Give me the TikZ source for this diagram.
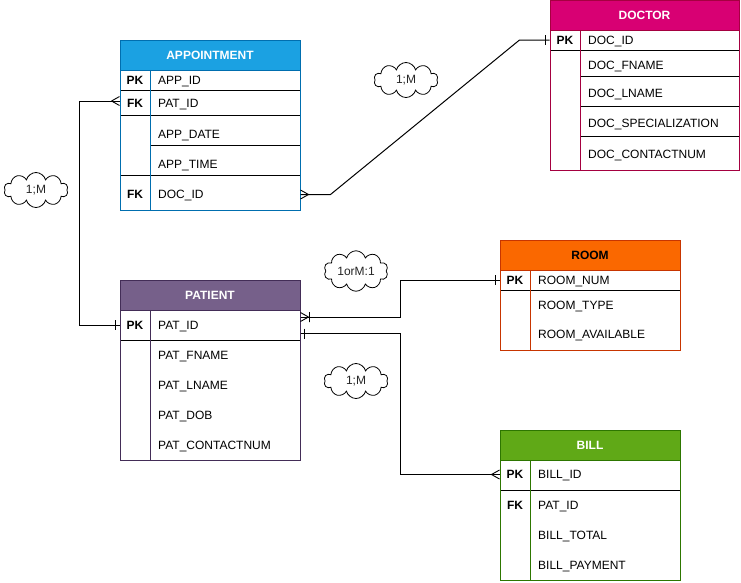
\documentclass[tikz,border=0pt]{standalone}
\usepackage{fontspec}
\setmainfont{Liberation Sans}
\usetikzlibrary{shapes.symbols,calc}
\definecolor{appFill}{HTML}{1BA1E2}\definecolor{appLine}{HTML}{006EAF}
\definecolor{docFill}{HTML}{D80073}\definecolor{docLine}{HTML}{A50040}
\definecolor{patFill}{HTML}{76608A}\definecolor{patLine}{HTML}{432D57}
\definecolor{roomFill}{HTML}{FA6800}\definecolor{roomLine}{HTML}{C73500}
\definecolor{billFill}{HTML}{60A917}\definecolor{billLine}{HTML}{2D7600}
\tikzset{
  hdr/.style={rectangle, inner sep=0pt, line width=1pt, font=\fontsize{12}{14}\selectfont\bfseries, text=white},
  bodybox/.style={rectangle, inner sep=0pt, line width=1pt, fill=white},
  keytxt/.style={inner sep=0pt, text height=8.6pt, text depth=0pt, font=\fontsize{12}{14}\selectfont\bfseries},
  fldtxt/.style={inner sep=0pt, text height=8.6pt, text depth=0pt, anchor=west, font=\fontsize{12}{14}\selectfont},
  sep/.style={line width=1pt, black},
  conn/.style={line width=1pt, black},
  note/.style={cloud, cloud puffs=10, aspect=1.8, draw, fill=white, line width=0.8pt, inner sep=0pt,
     minimum width=64pt, minimum height=35pt, font=\fontsize{12}{14}\selectfont, text=black!85},
  pics/crowfoot/.style={code={\draw[line width=0.9pt] (-8,0) -- (0,-4.5) (-8,0) -- (0,4.5);}},
  pics/onebar/.style={code={\draw[line width=0.9pt] (-4,-5) -- (-4,5);}},
  pics/onemany/.style={code={\draw[line width=0.9pt] (-8,0) -- (0,-4.5) (-8,0) -- (0,4.5) (-9,-5) -- (-9,5);}}
}
\begin{document}
\begin{tikzpicture}[x=1pt,y=-1pt]
\useasboundingbox[fill=white] (0,0) rectangle (741,582);

% ---------------- APPOINTMENT ----------------
\node[bodybox, draw=appLine, minimum width=180pt, minimum height=140pt] (appB) at (210,140) {};
\node[hdr, fill=appFill, draw=appLine, minimum width=180pt, minimum height=30pt] (appH) at (210,55) {APPOINTMENT};
\draw[sep] (120,90) -- (300,90) (120,115) -- (300,115) (150,145) -- (300,145) (120,175) -- (300,175);
\draw[appLine, line width=1pt] (150,70) -- (150,210);
\draw[appLine, line width=1pt] (120,70) rectangle (300,210);
\node[keytxt] (appK1) at (135,80) {PK};
\node[fldtxt] (appF1) at (158,80) {APP\_ID};
\node[keytxt] (appK2) at (135,103.5) {FK};
\node[fldtxt] (appF2) at (158,103.5) {PAT\_ID};
\node[fldtxt] (appF3) at (158,134) {APP\_DATE};
\node[fldtxt] (appF4) at (158,164) {APP\_TIME};
\node[keytxt] (appK5) at (135,194.5) {FK};
\node[fldtxt] (appF5) at (158,194.5) {DOC\_ID};

% ---------------- DOCTOR ----------------
\node[bodybox, draw=docLine, minimum width=189pt, minimum height=140pt] (docB) at (644.5,100) {};
\node[hdr, fill=docFill, draw=docLine, minimum width=189pt, minimum height=29.5pt] (docH) at (644.5,15.25) {DOCTOR};
\draw[sep] (550,50) -- (739,50) (580,76) -- (739,76) (580,106) -- (739,106) (580,136) -- (739,136);
\draw[docLine, line width=1pt] (580,30) -- (580,170);
\draw[docLine, line width=1pt] (550,30) rectangle (739,170);
\node[keytxt] (docK1) at (565,40) {PK};
\node[fldtxt] (docF1) at (588,40) {DOC\_ID};
\node[fldtxt] (docF2) at (588,65) {DOC\_FNAME};
\node[fldtxt] (docF3) at (588,93.5) {DOC\_LNAME};
\node[fldtxt] (docF4) at (588,123.5) {DOC\_SPECIALIZATION};
\node[fldtxt] (docF5) at (588,154.5) {DOC\_CONTACTNUM};

% ---------------- PATIENT ----------------
\node[bodybox, draw=patLine, minimum width=180pt, minimum height=150pt] (patB) at (210,385) {};
\node[hdr, fill=patFill, draw=patLine, minimum width=180pt, minimum height=30pt] (patH) at (210,295) {PATIENT};
\draw[sep] (120,340) -- (300,340);
\draw[patLine, line width=1pt] (150,310) -- (150,460);
\draw[patLine, line width=1pt] (120,310) rectangle (300,460);
\node[keytxt] (patK1) at (135,325) {PK};
\node[fldtxt] (patF1) at (158,325) {PAT\_ID};
\node[fldtxt] (patF2) at (158,355) {PAT\_FNAME};
\node[fldtxt] (patF3) at (158,385) {PAT\_LNAME};
\node[fldtxt] (patF4) at (158,415) {PAT\_DOB};
\node[fldtxt] (patF5) at (158,445) {PAT\_CONTACTNUM};

% ---------------- ROOM ----------------
\node[bodybox, draw=roomLine, minimum width=180pt, minimum height=80pt] (roomB) at (590,310) {};
\node[hdr, fill=roomFill, draw=roomLine, minimum width=180pt, minimum height=30pt, text=black] (roomH) at (590,255) {ROOM};
\draw[sep] (500,290) -- (680,290);
\draw[roomLine, line width=1pt] (530,270) -- (530,350);
\draw[roomLine, line width=1pt] (500,270) rectangle (680,350);
\node[keytxt] (roomK1) at (515,280) {PK};
\node[fldtxt] (roomF1) at (538,280) {ROOM\_NUM};
\node[fldtxt] (roomF2) at (538,305) {ROOM\_TYPE};
\node[fldtxt] (roomF3) at (538,334.5) {ROOM\_AVAILABLE};

% ---------------- BILL ----------------
\node[bodybox, draw=billLine, minimum width=180pt, minimum height=120pt] (billB) at (590,520) {};
\node[hdr, fill=billFill, draw=billLine, minimum width=180pt, minimum height=30pt] (billH) at (590,445) {BILL};
\draw[sep] (500,490) -- (680,490);
\draw[billLine, line width=1pt] (530,460) -- (530,580);
\draw[billLine, line width=1pt] (500,460) rectangle (680,580);
\node[keytxt] (billK1) at (515,474.5) {PK};
\node[fldtxt] (billF1) at (538,474.5) {BILL\_ID};
\node[keytxt] (billK2) at (515,505) {FK};
\node[fldtxt] (billF2) at (538,505) {PAT\_ID};
\node[fldtxt] (billF3) at (538,535) {BILL\_TOTAL};
\node[fldtxt] (billF4) at (538,565) {BILL\_PAYMENT};

% ---------------- connectors ----------------
\coordinate (cApp1) at ($(appB.west |- appF2)+(0,-2.5)$);
\coordinate (cPat1) at (patB.west |- patF1);
\draw[conn] (cApp1) -- ++(-40,0) |- (cPat1);
\pic at (cApp1) {crowfoot};
\pic at (cPat1) {onebar};

\coordinate (cApp2) at (appB.east |- appF5);
\coordinate (cDoc) at (docB.west |- docF1);
\draw[conn] (cApp2) -- ++(30,0) -- ($(cDoc)+(-30,0)$) -- (cDoc);
\pic[xscale=-1] at (cApp2) {crowfoot};
\pic at (cDoc) {onebar};

\coordinate (cPat2) at ($(patB.east |- patF1)+(0,-8)$);
\coordinate (cRoom) at (roomB.west |- roomF1);
\draw[conn] (cPat2) -- ++(100,0) |- (cRoom);
\pic[xscale=-1] at (cPat2) {onemany};
\pic at (cRoom) {onebar};

\coordinate (cPat3) at ($(patB.east |- patF1)+(0,8.5)$);
\coordinate (cBill) at (billB.west |- billF1);
\draw[conn] (cPat3) -- ++(100,0) |- (cBill);
\pic[xscale=-1] at (cPat3) {onebar};
\pic at (cBill) {crowfoot};

% ---------------- notes ----------------
\node[note] (n1) at (406,80) {1;M};
\node[note] (n2) at (36,190) {1;M};
\node[note] (n3) at (356,271) {1orM:1};
\node[note] (n4) at (356,381) {1;M};
\end{tikzpicture}
\end{document}
